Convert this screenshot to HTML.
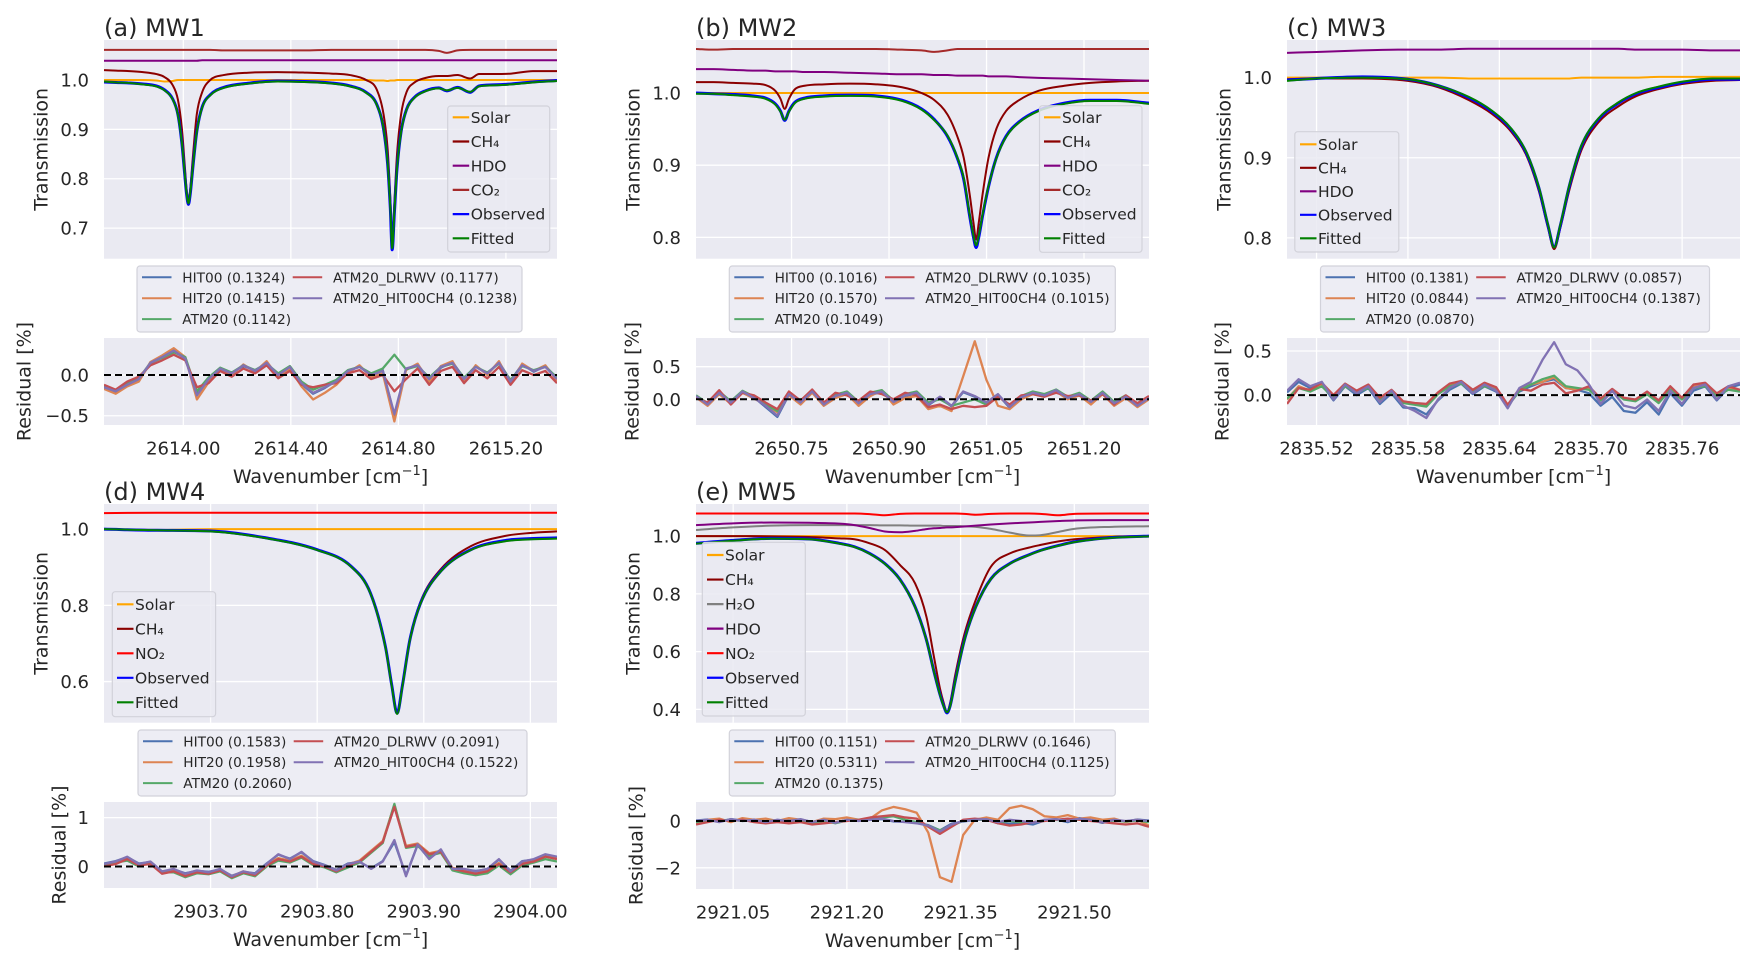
<!DOCTYPE html>
<html><head><meta charset="utf-8"><title>Microwindow fits</title>
<style>
html,body{margin:0;padding:0;background:#fff;}
svg{display:block;font-family:"DejaVu Sans","Liberation Sans",sans-serif;}
</style></head>
<body>
<svg id="fig" xmlns="http://www.w3.org/2000/svg" width="1758" height="967" viewBox="0 0 1758 967"></svg>
<script>
// ---------- Panel (a) MW1 data ----------
const aWn=[2613.705,2613.75,2613.80,2613.85,2613.90,2613.93,2613.96,2613.98,2613.995,2614.005,2614.012,2614.019,2614.026,2614.035,2614.05,2614.07,2614.10,2614.15,2614.25,2614.35,2614.45,2614.55,2614.62,2614.68,2614.72,2614.745,2614.76,2614.77,2614.777,2614.785,2614.795,2614.81,2614.83,2614.86,2614.90,2614.95,2614.98,2615.02,2615.067,2615.10,2615.15,2615.22,2615.30,2615.39];
const aObs=[0.996,0.995,0.994,0.992,0.988,0.980,0.962,0.93,0.87,0.81,0.77,0.748,0.77,0.82,0.895,0.945,0.97,0.985,0.994,0.998,0.997,0.994,0.988,0.975,0.95,0.90,0.83,0.74,0.656,0.73,0.82,0.895,0.94,0.965,0.978,0.984,0.978,0.985,0.975,0.988,0.990,0.992,0.996,0.999];
const aFit=[0.997,0.995,0.994,0.991,0.987,0.979,0.961,0.929,0.871,0.812,0.772,0.750,0.772,0.821,0.894,0.944,0.969,0.984,0.993,0.997,0.996,0.993,0.987,0.974,0.949,0.901,0.832,0.742,0.659,0.732,0.821,0.894,0.939,0.964,0.977,0.983,0.979,0.984,0.976,0.987,0.989,0.991,0.995,0.998];
const aCH4=[1.020,1.019,1.018,1.016,1.012,1.006,0.99,0.96,0.90,0.83,0.78,0.755,0.78,0.84,0.93,0.975,1.000,1.010,1.015,1.016,1.015,1.013,1.010,1.000,0.98,0.93,0.86,0.76,0.665,0.75,0.85,0.93,0.975,0.995,1.004,1.008,1.008,1.010,1.003,1.012,1.012,1.013,1.018,1.018];
const aCO2=[1.061,1.061,1.061,1.061,1.061,1.061,1.061,1.061,1.061,1.061,1.061,1.061,1.061,1.061,1.061,1.061,1.061,1.060,1.060,1.060,1.060,1.061,1.061,1.061,1.061,1.061,1.061,1.061,1.061,1.061,1.061,1.061,1.061,1.061,1.061,1.059,1.055,1.060,1.061,1.061,1.061,1.061,1.061,1.061];
const aHDO=[1.039,1.039,1.039,1.039,1.039,1.039,1.039,1.039,1.039,1.039,1.039,1.039,1.039,1.039,1.039,1.040,1.040,1.040,1.040,1.040,1.040,1.040,1.040,1.040,1.040,1.040,1.040,1.040,1.040,1.040,1.040,1.040,1.040,1.040,1.040,1.040,1.040,1.040,1.040,1.040,1.040,1.040,1.040,1.040];
const aSolar=[1.0,1.0,1.0,1.0,0.999,0.997,0.998,1.0,1.0,1.0,1.0,1.0,1.0,1.0,1.0,1.0,1.0,1.0,1.0,1.0,1.0,1.0,1.0,1.0,0.999,0.999,0.998,0.999,0.999,0.999,1.0,1.0,1.0,1.0,1.0,1.0,1.0,1.0,1.0,1.0,1.0,1.0,1.0,1.0];
const aResBlue=[-0.14,-0.21,-0.11,-0.06,0.14,0.23,0.29,0.21,-0.24,-0.06,0.07,0.03,0.11,0.06,0.14,0.01,0.09,-0.11,-0.23,-0.16,-0.07,0.04,0.11,-0.01,0.06,-0.50,0.07,0.13,-0.06,0.09,0.16,-0.04,0.11,0.01,0.16,-0.07,0.13,0.04,0.11,-0.04];
const aResOrange=[-0.17,-0.23,-0.14,-0.08,0.16,0.24,0.33,0.22,-0.30,-0.09,0.06,0.00,0.13,0.04,0.17,-0.03,0.08,-0.14,-0.30,-0.22,-0.12,0.03,0.12,-0.03,0.02,-0.57,0.06,0.14,-0.09,0.11,0.17,-0.08,0.12,0.00,0.17,-0.11,0.14,0.05,0.12,-0.07];
const aResGreen=[-0.13,-0.19,-0.10,-0.04,0.15,0.21,0.28,0.22,-0.20,-0.03,0.09,0.03,0.12,0.06,0.14,0.02,0.11,-0.08,-0.18,-0.12,-0.06,0.06,0.10,0.02,0.08,0.25,0.07,0.11,-0.03,0.10,0.14,-0.03,0.10,0.03,0.14,-0.06,0.11,0.06,0.10,-0.03];
const aResRed=[-0.12,-0.18,-0.08,-0.02,0.12,0.18,0.25,0.18,-0.15,-0.10,0.05,-0.02,0.08,0.02,0.12,-0.04,0.05,-0.12,-0.15,-0.12,-0.10,0.02,0.06,-0.05,0.00,-0.20,-0.05,0.08,-0.12,0.05,0.10,-0.10,0.06,-0.04,0.10,-0.12,0.06,0.00,0.05,-0.10];
const aResPurple=[-0.15,-0.20,-0.12,-0.05,0.15,0.22,0.30,0.20,-0.25,-0.05,0.08,0.02,0.12,0.05,0.15,0.00,0.10,-0.10,-0.22,-0.15,-0.08,0.05,0.10,0.00,0.05,-0.48,0.08,0.12,-0.05,0.10,0.15,-0.05,0.10,0.02,0.15,-0.08,0.12,0.05,0.10,-0.05];
const aXTicks=[2614.00,2614.40,2614.80,2615.20];
const aXTickLabels=['2614.00','2614.40','2614.80','2615.20'];
const aYTicks=[0.7,0.8,0.9,1.0];
const aYTickLabels=['0.7','0.8','0.9','1.0'];
const aRTicks=[-0.5,0.0];
const aRTickLabels=['\u22120.5','0.0'];
const aRmsLabels=['HIT00 (0.1324)','HIT20 (0.1415)','ATM20 (0.1142)','ATM20_DLRWV (0.1177)','ATM20_HIT00CH4 (0.1238)'];

// ---------- Panel (b) MW2 data ----------
const bWn=[2650.603,2650.63,2650.66,2650.69,2650.71,2650.725,2650.733,2650.7395,2650.746,2650.755,2650.77,2650.80,2650.84,2650.88,2650.92,2650.95,2650.97,2650.99,2651.005,2651.015,2651.024,2651.030,2651.034,2651.038,2651.044,2651.053,2651.065,2651.08,2651.10,2651.13,2651.17,2651.21,2651.25,2651.30];
const bObs=[1.000,0.999,0.998,0.996,0.993,0.985,0.975,0.962,0.975,0.987,0.993,0.996,0.997,0.996,0.990,0.978,0.963,0.94,0.91,0.88,0.83,0.80,0.786,0.80,0.83,0.87,0.91,0.94,0.96,0.976,0.986,0.990,0.990,0.986];
const bFit=[0.999,0.999,0.997,0.995,0.992,0.984,0.974,0.963,0.974,0.986,0.992,0.995,0.996,0.995,0.989,0.977,0.962,0.941,0.911,0.882,0.832,0.802,0.789,0.802,0.832,0.871,0.909,0.939,0.959,0.975,0.985,0.989,0.989,0.985];
const bCH4=[1.015,1.015,1.014,1.013,1.011,1.003,0.992,0.978,0.992,1.005,1.010,1.012,1.013,1.012,1.008,1.000,0.99,0.97,0.94,0.91,0.86,0.82,0.797,0.82,0.86,0.91,0.95,0.975,0.99,1.003,1.010,1.014,1.016,1.017];
const bCO2=[1.061,1.060,1.061,1.061,1.061,1.061,1.061,1.061,1.061,1.061,1.061,1.061,1.061,1.061,1.060,1.059,1.057,1.059,1.061,1.061,1.061,1.061,1.061,1.061,1.061,1.061,1.061,1.061,1.061,1.061,1.061,1.061,1.061,1.061];
const bHDO=[1.033,1.033,1.032,1.031,1.031,1.030,1.030,1.030,1.030,1.030,1.029,1.029,1.028,1.027,1.026,1.026,1.025,1.025,1.024,1.024,1.024,1.024,1.024,1.024,1.024,1.023,1.023,1.023,1.022,1.021,1.020,1.019,1.018,1.017];
const bSolar=[1.0,1.0,1.0,1.0,1.0,1.0,1.0,1.0,1.0,1.0,1.0,1.0,1.0,1.0,1.0,1.0,1.0,1.0,1.0,1.0,1.0,1.0,1.0,1.0,1.0,1.0,1.0,1.0,1.0,1.0,1.0,1.0,1.0,1.0];
const bResBlue=[0.04,-0.09,0.09,-0.06,0.11,0.03,-0.12,-0.27,0.07,-0.06,0.11,-0.09,0.04,0.09,-0.07,0.07,0.11,-0.05,0.05,0.09,-0.09,0.03,-0.11,0.11,0.04,-0.06,0.07,-0.13,0.02,0.09,0.05,0.13,0.01,0.07,-0.05,0.09,-0.07,0.03,-0.11,0.01];
const bResOrange=[0.03,-0.10,0.08,-0.07,0.10,0.01,-0.08,-0.20,0.06,-0.08,0.10,-0.10,0.02,0.08,-0.10,0.05,0.14,-0.08,0.02,0.05,-0.15,-0.10,-0.18,0.35,0.89,0.30,-0.10,-0.15,0.00,0.08,0.04,0.12,0.00,0.06,-0.08,0.08,-0.10,0.02,-0.12,0.00];
const bResGreen=[0.06,-0.06,0.12,-0.03,0.13,0.04,-0.08,-0.18,0.10,-0.03,0.14,-0.06,0.07,0.12,-0.04,0.10,0.14,-0.02,0.08,0.12,-0.05,0.00,-0.10,-0.05,0.00,-0.08,0.06,-0.10,0.05,0.12,0.08,0.15,0.04,0.10,-0.02,0.12,-0.04,0.06,-0.08,0.04];
const bResRed=[0.02,-0.05,0.14,-0.08,0.10,0.06,-0.05,-0.15,0.12,-0.02,0.15,-0.05,0.10,0.06,-0.02,0.12,0.08,0.00,0.10,0.06,-0.12,-0.08,-0.15,-0.10,-0.12,-0.10,0.04,-0.08,0.06,0.08,0.04,0.10,0.05,0.06,-0.02,0.08,-0.08,0.06,-0.06,0.05];
const bResPurple=[0.05,-0.08,0.10,-0.05,0.12,0.02,-0.10,-0.25,0.08,-0.05,0.12,-0.08,0.05,0.10,-0.06,0.08,0.12,-0.04,0.06,0.10,-0.08,0.04,-0.10,0.12,0.05,-0.05,0.08,-0.12,0.03,0.10,0.06,0.14,0.02,0.08,-0.04,0.10,-0.06,0.04,-0.10,0.02];
const bXTicks=[2650.75,2650.90,2651.05,2651.20];
const bXTickLabels=['2650.75','2650.90','2651.05','2651.20'];
const bYTicks=[0.8,0.9,1.0];
const bYTickLabels=['0.8','0.9','1.0'];
const bRTicks=[0.0,0.5];
const bRTickLabels=['0.0','0.5'];
const bRmsLabels=['HIT00 (0.1016)','HIT20 (0.1570)','ATM20 (0.1049)','ATM20_DLRWV (0.1035)','ATM20_HIT00CH4 (0.1015)'];

// ---------- Panel (c) MW3 data ----------
const cWn=[2835.5006,2835.52,2835.55,2835.58,2835.60,2835.62,2835.635,2835.648,2835.658,2835.666,2835.672,2835.676,2835.680,2835.686,2835.694,2835.705,2835.718,2835.73,2835.745,2835.76,2835.78,2835.798];
const cObs=[0.997,0.999,1.001,0.998,0.990,0.975,0.958,0.935,0.905,0.862,0.815,0.789,0.815,0.865,0.915,0.948,0.968,0.980,0.988,0.994,0.998,0.998];
const cFit=[0.996,0.999,1.000,0.998,0.990,0.976,0.959,0.936,0.906,0.863,0.816,0.788,0.816,0.866,0.916,0.949,0.969,0.981,0.989,0.995,0.999,0.999];
const cCH4=[0.998,0.999,0.999,0.996,0.988,0.972,0.955,0.932,0.902,0.858,0.812,0.786,0.812,0.860,0.910,0.944,0.964,0.977,0.986,0.992,0.996,0.997];
const cHDO=[1.031,1.032,1.034,1.035,1.035,1.036,1.036,1.036,1.036,1.036,1.036,1.036,1.036,1.036,1.036,1.036,1.036,1.035,1.035,1.035,1.034,1.034];
const cSolar=[1.0,1.0,1.0,1.0,1.0,0.999,0.999,0.999,0.999,0.999,0.999,0.999,0.999,0.999,1.0,1.0,1.0,1.0,1.001,1.001,1.001,1.001];
const cResBlue=[0.03,0.15,0.08,0.12,-0.06,0.10,0.00,0.08,-0.10,0.02,-0.14,-0.15,-0.22,-0.06,0.06,0.13,0.01,0.10,0.04,-0.12,0.04,0.10,0.15,0.18,0.08,0.06,0.02,-0.12,-0.02,-0.18,-0.20,-0.08,-0.22,0.02,-0.12,0.05,0.10,-0.06,0.08,0.12];
const cResOrange=[-0.05,0.10,0.05,0.12,-0.02,0.12,0.04,0.10,-0.04,0.04,-0.08,-0.10,-0.12,0.02,0.12,0.15,0.05,0.12,0.08,-0.12,0.06,0.12,0.15,0.20,0.08,0.06,0.08,-0.05,0.06,-0.04,-0.06,0.02,-0.08,0.08,-0.04,0.10,0.12,0.00,0.08,0.05];
const cResGreen=[-0.04,0.08,0.04,0.10,-0.03,0.10,0.03,0.08,-0.05,0.03,-0.09,-0.11,-0.13,0.01,0.10,0.13,0.04,0.10,0.06,-0.13,0.05,0.12,0.18,0.22,0.10,0.08,0.06,-0.06,0.05,-0.05,-0.07,0.01,-0.09,0.06,-0.05,0.08,0.10,-0.01,0.06,0.04];
const cResRed=[-0.10,0.08,0.06,0.14,0.00,0.13,0.05,0.12,-0.03,0.06,-0.07,-0.09,-0.10,0.03,0.13,0.16,0.06,0.14,0.09,-0.11,0.07,0.05,0.12,0.14,0.02,0.05,0.10,-0.04,0.07,-0.03,-0.05,0.04,-0.06,0.10,-0.03,0.12,0.14,0.02,0.10,0.06];
const cResPurple=[0.05,0.18,0.10,0.15,-0.05,0.12,0.02,0.10,-0.08,0.05,-0.12,-0.18,-0.26,-0.05,0.08,0.15,0.02,0.12,0.05,-0.15,0.08,0.15,0.40,0.60,0.35,0.28,0.12,-0.10,0.05,-0.12,-0.15,-0.05,-0.18,0.05,-0.10,0.08,0.12,-0.05,0.10,0.14];
const cXTicks=[2835.52,2835.58,2835.64,2835.70,2835.76];
const cXTickLabels=['2835.52','2835.58','2835.64','2835.70','2835.76'];
const cYTicks=[0.8,0.9,1.0];
const cYTickLabels=['0.8','0.9','1.0'];
const cRTicks=[0.0,0.5];
const cRTickLabels=['0.0','0.5'];
const cRmsLabels=['HIT00 (0.1381)','HIT20 (0.0844)','ATM20 (0.0870)','ATM20_DLRWV (0.0857)','ATM20_HIT00CH4 (0.1387)'];

// ---------- Panel (d) MW4 data ----------
const dWn=[2903.60,2903.65,2903.70,2903.75,2903.80,2903.832,2903.85,2903.864,2903.870,2903.875,2903.880,2903.887,2903.897,2903.916,2903.944,2903.976,2904.00,2904.025];
const dObs=[1.000,0.997,0.995,0.978,0.946,0.902,0.832,0.692,0.590,0.517,0.590,0.71,0.806,0.89,0.946,0.970,0.975,0.977];
const dFit=[1.000,0.997,0.994,0.977,0.945,0.901,0.831,0.690,0.588,0.515,0.588,0.709,0.805,0.889,0.945,0.968,0.973,0.975];
const dCH4=[1.000,0.997,0.995,0.978,0.946,0.902,0.832,0.692,0.590,0.517,0.590,0.71,0.81,0.895,0.955,0.982,0.990,0.994];
const dNO2=[1.042,1.043,1.043,1.043,1.043,1.043,1.043,1.043,1.043,1.043,1.043,1.043,1.043,1.043,1.043,1.043,1.043,1.043];
const dSolar=[1.0,0.998,1.0,1.0,1.0,1.0,1.0,1.0,1.0,1.0,1.0,1.0,1.0,1.0,1.0,1.0,1.0,1.0];
const dResBlue=[0.06,0.11,0.19,0.06,0.09,-0.11,-0.06,-0.14,-0.09,-0.11,-0.06,-0.19,-0.11,-0.14,0.06,0.24,0.16,0.29,0.11,0.03,-0.07,0.06,0.09,-0.04,0.11,0.50,-0.18,0.44,0.16,0.34,-0.04,-0.06,-0.09,-0.06,0.14,-0.09,0.11,0.14,0.24,0.19];
const dResOrange=[0.02,0.07,0.17,0.04,0.07,-0.13,-0.08,-0.18,-0.10,-0.13,-0.06,-0.20,-0.10,-0.16,0.04,0.17,0.12,0.22,0.07,0.02,-0.08,0.04,0.12,0.32,0.52,1.26,0.42,0.47,0.27,0.32,-0.03,-0.08,-0.13,-0.08,0.07,-0.10,0.07,0.12,0.22,0.17];
const dResGreen=[0.04,0.08,0.12,0.00,0.08,-0.12,-0.12,-0.22,-0.14,-0.16,-0.10,-0.24,-0.14,-0.20,0.00,0.12,0.08,0.18,0.03,-0.02,-0.12,-0.02,0.08,0.28,0.48,1.28,0.38,0.42,0.22,0.28,-0.08,-0.14,-0.18,-0.14,0.02,-0.16,0.02,0.08,0.15,0.10];
const dResRed=[0.00,0.05,0.15,0.02,0.05,-0.15,-0.10,-0.20,-0.12,-0.15,-0.08,-0.22,-0.12,-0.18,0.02,0.15,0.10,0.20,0.05,0.00,-0.10,0.02,0.10,0.30,0.50,1.22,0.40,0.45,0.25,0.30,-0.05,-0.10,-0.15,-0.10,0.05,-0.12,0.05,0.10,0.20,0.15];
const dResPurple=[0.05,0.10,0.20,0.05,0.10,-0.10,-0.05,-0.15,-0.08,-0.12,-0.05,-0.20,-0.10,-0.15,0.05,0.25,0.15,0.30,0.10,0.02,-0.08,0.05,0.10,-0.05,0.10,0.54,-0.20,0.45,0.15,0.35,-0.05,-0.05,-0.10,-0.05,0.15,-0.10,0.10,0.15,0.25,0.20];
const dXTicks=[2903.70,2903.80,2903.90,2904.00];
const dXTickLabels=['2903.70','2903.80','2903.90','2904.00'];
const dYTicks=[0.6,0.8,1.0];
const dYTickLabels=['0.6','0.8','1.0'];
const dRTicks=[0,1];
const dRTickLabels=['0','1'];
const dRmsLabels=['HIT00 (0.1583)','HIT20 (0.1958)','ATM20 (0.2060)','ATM20_DLRWV (0.2091)','ATM20_HIT00CH4 (0.1522)'];

// ---------- Panel (e) MW5 data ----------
const eWn=[2921.001,2921.05,2921.10,2921.15,2921.19,2921.21,2921.23,2921.25,2921.27,2921.29,2921.305,2921.315,2921.323,2921.328,2921.332,2921.336,2921.343,2921.355,2921.37,2921.39,2921.415,2921.44,2921.455,2921.48,2921.50,2921.55,2921.5985];
const eObs=[0.975,0.985,0.992,0.99,0.975,0.963,0.94,0.905,0.85,0.755,0.64,0.53,0.45,0.41,0.388,0.41,0.50,0.64,0.755,0.852,0.905,0.935,0.95,0.968,0.98,0.995,1.0];
const eFit=[0.974,0.984,0.991,0.989,0.974,0.962,0.939,0.904,0.849,0.754,0.639,0.529,0.449,0.409,0.390,0.409,0.499,0.639,0.754,0.851,0.904,0.934,0.949,0.967,0.979,0.994,0.999];
const eCH4=[1.0,1.0,0.999,0.997,0.992,0.989,0.975,0.952,0.90,0.836,0.72,0.58,0.47,0.42,0.39,0.42,0.52,0.66,0.779,0.894,0.94,0.96,0.969,0.982,0.989,0.997,1.0];
const eH2O=[1.021,1.03,1.036,1.038,1.038,1.038,1.038,1.037,1.037,1.036,1.036,1.036,1.036,1.035,1.035,1.035,1.035,1.034,1.032,1.025,1.012,1.002,1.003,1.015,1.025,1.032,1.034];
const eHDO=[1.038,1.044,1.047,1.046,1.043,1.038,1.028,1.016,1.013,1.018,1.024,1.027,1.028,1.029,1.030,1.030,1.031,1.033,1.036,1.040,1.044,1.047,1.049,1.052,1.054,1.055,1.055];
const eNO2=[1.078,1.078,1.078,1.078,1.078,1.078,1.076,1.072,1.077,1.078,1.078,1.078,1.078,1.078,1.078,1.078,1.078,1.077,1.074,1.077,1.078,1.078,1.077,1.072,1.077,1.078,1.078];
const eSolar=[1.0,1.0,1.0,1.0,1.0,1.0,1.0,1.0,1.0,1.0,1.0,1.0,1.0,1.0,1.0,1.0,1.0,1.0,1.0,1.0,1.0,1.0,1.0,1.0,1.0,1.0,1.0];
const eResBlue=[0.02,0.06,-0.04,0.08,0.02,0.06,-0.04,0.04,0.02,0.06,-0.04,0.06,-0.06,0.04,0.02,0.04,0.08,-0.02,-0.04,-0.08,-0.18,-0.40,-0.12,-0.02,0.04,0.06,-0.10,-0.12,-0.08,-0.15,0.02,0.06,-0.05,0.12,0.04,-0.08,0.04,-0.02,0.06,0.02];
const eResOrange=[-0.1,0.05,0.1,-0.05,0.12,0.05,0.10,0.00,0.12,0.05,-0.05,0.10,0.08,0.15,0.05,0.10,0.45,0.60,0.50,0.35,-0.50,-2.40,-2.60,-0.60,0.05,0.15,0.05,0.55,0.65,0.50,0.20,0.15,0.25,0.10,0.15,0.05,0.10,-0.05,0.05,-0.20];
const eResGreen=[-0.05,0.00,0.02,0.05,0.00,0.02,-0.02,0.03,-0.05,0.02,-0.08,0.00,-0.10,0.02,0.05,0.08,0.15,0.20,0.05,-0.05,-0.20,-0.40,-0.20,0.00,0.05,0.05,-0.05,0.00,-0.05,-0.05,0.02,0.05,0.02,0.06,0.02,-0.03,0.02,-0.02,0.02,-0.05];
const eResRed=[-0.15,-0.05,0.05,0.00,0.05,-0.05,-0.10,-0.05,-0.10,-0.05,-0.15,-0.10,-0.05,0.00,0.05,0.15,0.20,0.25,0.15,0.10,-0.25,-0.55,-0.25,0.05,0.10,0.05,-0.10,-0.20,-0.15,-0.05,0.00,0.05,0.10,0.05,0.00,-0.05,-0.10,-0.15,-0.10,-0.25];
const eResPurple=[0.00,0.05,-0.05,0.08,0.00,0.05,-0.05,0.05,0.00,0.08,-0.05,0.05,-0.08,0.05,0.00,0.05,0.10,0.00,-0.05,-0.10,-0.20,-0.45,-0.15,0.00,0.05,0.08,-0.05,0.05,0.00,-0.08,0.05,0.08,0.00,0.10,0.05,-0.05,0.05,0.00,0.05,0.00];
const eXTicks=[2921.05,2921.20,2921.35,2921.50];
const eXTickLabels=['2921.05','2921.20','2921.35','2921.50'];
const eYTicks=[0.4,0.6,0.8,1.0];
const eYTickLabels=['0.4','0.6','0.8','1.0'];
const eRTicks=[-2,0];
const eRTickLabels=['\u22122','0'];
const eRmsLabels=['HIT00 (0.1151)','HIT20 (0.5311)','ATM20 (0.1375)','ATM20_DLRWV (0.1646)','ATM20_HIT00CH4 (0.1125)'];

// ---------- rendering ----------
const NS='http://www.w3.org/2000/svg';
const svg=document.getElementById('fig');
const C={Solar:'#ffa500',CH4:'#8b0000',HDO:'#800080',CO2:'#a52a2a',H2O:'#808080',NO2:'#ff0000',Observed:'#0000ff',Fitted:'#008000'};
const RC=['#4c72b0','#dd8452','#55a868','#c44e52','#8172b3'];
const LBL={Solar:'Solar',CH4:'CH\u2084',HDO:'HDO',CO2:'CO\u2082',H2O:'H\u2082O',NO2:'NO\u2082',Observed:'Observed',Fitted:'Fitted'};
function mk(tag,attrs,parent){const e=document.createElementNS(NS,tag);for(const k in attrs)e.setAttribute(k,attrs[k]);(parent||svg).appendChild(e);return e;}
function scale(d0,d1,r0,r1){return v=>r0+(v-d0)/(d1-d0)*(r1-r0);}
function pathFrom(xs,ys,sx,sy){let s='';for(let i=0;i<xs.length;i++){s+=(i?'L':'M')+sx(xs[i]).toFixed(2)+','+sy(ys[i]).toFixed(2);}return s;}
// monotone cubic (Fritsch-Carlson) smooth path in pixel space
function smoothPath(xs,ys,sx,sy){
  const X=xs.map(sx),Y=ys.map(sy),n=X.length;
  if(n<3)return pathFrom(xs,ys,sx,sy);
  const d=[],m=new Array(n);
  for(let i=0;i<n-1;i++)d.push((Y[i+1]-Y[i])/(X[i+1]-X[i]));
  m[0]=d[0];m[n-1]=d[n-2];
  for(let i=1;i<n-1;i++){m[i]=(d[i-1]*d[i]<=0)?0:(d[i-1]+d[i])/2;}
  for(let i=0;i<n-1;i++){
    if(d[i]===0){m[i]=0;m[i+1]=0;continue;}
    const a=m[i]/d[i],b=m[i+1]/d[i],h=a*a+b*b;
    if(h>9){const t=3/Math.sqrt(h);m[i]=t*a*d[i];m[i+1]=t*b*d[i];}
  }
  let s='M'+X[0].toFixed(2)+','+Y[0].toFixed(2);
  for(let i=0;i<n-1;i++){
    const h=(X[i+1]-X[i])/3;
    s+='C'+(X[i]+h).toFixed(2)+','+(Y[i]+m[i]*h).toFixed(2)+' '+(X[i+1]-h).toFixed(2)+','+(Y[i+1]-m[i+1]*h).toFixed(2)+' '+X[i+1].toFixed(2)+','+Y[i+1].toFixed(2);
  }
  return s;
}
let clipId=0;

function drawPanel(p){
  const g=mk('g',{});
  
  
  const sx=scale(p.xr[0],p.xr[1],p.L,p.L+p.W);
  const sy=scale(p.yr[0],p.yr[1],p.T+p.H,p.T);
  const sr=scale(p.rr[0],p.rr[1],p.RT+p.RH,p.RT);
  const t=mk('text',{x:p.L,y:p.T-4,'font-size':24,fill:'#262626'},g);
  t.textContent=p.title;
  
  
  [[p.T,p.H,'transmission-axes'],[p.RT,p.RH,'residual-axes']].forEach(a=>{
    const r=mk('rect',{x:p.L,y:a[0],width:p.W,height:a[1],fill:'#eaeaf2'},g);
    
    
  });
  p.xticks.forEach(v=>{
    const x=sx(v);
    const l1=mk('line',{x1:x,x2:x,y1:p.T,y2:p.T+p.H,stroke:'#fff','stroke-width':1.3},g);
    
    
    const l2=mk('line',{x1:x,x2:x,y1:p.RT,y2:p.RT+p.RH,stroke:'#fff','stroke-width':1.3},g);
    
    
  });
  p.yticks.forEach((v,i)=>{
    const y=sy(v);
    const l=mk('line',{x1:p.L,x2:p.L+p.W,y1:y,y2:y,stroke:'#fff','stroke-width':1.3},g);
    
    
    const tx=mk('text',{x:p.L-15,y:y+6.5,'font-size':18,'text-anchor':'end',fill:'#262626'},g);
    tx.textContent=p.ylabels[i];
    
    
  });
  p.rticks.forEach((v,i)=>{
    const y=sr(v);
    const l=mk('line',{x1:p.L,x2:p.L+p.W,y1:y,y2:y,stroke:'#fff','stroke-width':1.3},g);
    
    
    const tx=mk('text',{x:p.L-15,y:y+6.5,'font-size':18,'text-anchor':'end',fill:'#262626'},g);
    tx.textContent=p.rlabels[i];
    
    
  });
  p.xticks.forEach((v,i)=>{
    const tx=mk('text',{x:sx(v),y:p.RT+p.RH+29.5,'font-size':18,'text-anchor':'middle',fill:'#262626'},g);
    tx.textContent=p.xlabels[i];
    
    
  });
  const xl=mk('text',{x:p.L+p.W/2,y:p.RT+p.RH+58,'font-size':19,'text-anchor':'middle',fill:'#262626'},g);
  xl.innerHTML='Wavenumber [cm<tspan dy="-8" font-size="13">\u22121</tspan><tspan dy="8">]</tspan>';
  
  
  const ylx=p.L-62, yly=p.T+p.H/2;
  const yl=mk('text',{x:ylx,y:yly,'font-size':19,'text-anchor':'middle','dominant-baseline':'middle',fill:'#262626',transform:'rotate(-90 '+ylx+' '+yly+')'},g);
  yl.textContent='Transmission';
  
  
  const rlx=p.L-p.rlabOff, rly=p.RT+p.RH/2;
  const rl=mk('text',{x:rlx,y:rly,'font-size':19,'text-anchor':'middle','dominant-baseline':'middle',fill:'#262626',transform:'rotate(-90 '+rlx+' '+rly+')'},g);
  rl.textContent='Residual [%]';
  
  
  const cid1='clip'+(clipId++), cid2='clip'+(clipId++);
  const defs=mk('defs',{},g);
  const cp1=mk('clipPath',{id:cid1},defs); mk('rect',{x:p.L,y:p.T,width:p.W,height:p.H},cp1);
  const cp2=mk('clipPath',{id:cid2},defs); mk('rect',{x:p.L,y:p.RT,width:p.W,height:p.RH},cp2);
  const tg=mk('g',{'clip-path':'url(#'+cid1+')'},g);
  p.species.forEach(s=>{
    const w=s.name==='Observed'?3:2;
    const pa=mk('path',{d:smoothPath(p.wn,s.vals,sx,sy),fill:'none',stroke:C[s.name],'stroke-width':w,'stroke-linejoin':'round'},tg);
    
    
  });
  const rg=mk('g',{'clip-path':'url(#'+cid2+')'},g);
  p.res.forEach((vals,k)=>{
    const xs=vals.map((v,i)=>p.xr[0]+(p.xr[1]-p.xr[0])*i/(vals.length-1));
    const pa=mk('path',{d:pathFrom(xs,vals,sx,sr),fill:'none',stroke:RC[k],'stroke-width':2.3,'stroke-linejoin':'round'},rg);
    
    
  });
  const z=mk('line',{x1:p.L,x2:p.L+p.W,y1:sr(0),y2:sr(0),stroke:'#000','stroke-width':2,'stroke-dasharray':'7,4'},rg);
  
  
  const lg=p.leg;
  const lgG=mk('g',{},g);
  
  
  mk('rect',{x:lg.x,y:lg.y,width:lg.w,height:lg.h,rx:3,fill:'#eaeaf2','fill-opacity':0.85,stroke:'#d2d2da','stroke-width':1.2},lgG);
  p.species.forEach((s,i)=>{
    const cy=lg.y0+i*lg.dy;
    const ln=mk('line',{x1:lg.hx,x2:lg.hx+16.5,y1:cy,y2:cy,stroke:C[s.name],'stroke-width':2.2},lgG);
    
    
    const tx=mk('text',{x:lg.hx+18,y:cy+5.6,'font-size':15.5,fill:'#262626'},lgG);
    tx.textContent=LBL[s.name];
    
    
  });
  const rlg=mk('g',{},g);
  
  
  mk('rect',{x:p.rleg.x,y:p.rleg.y,width:p.rleg.w,height:66,rx:3,fill:'#eaeaf2','fill-opacity':0.85,stroke:'#d2d2da','stroke-width':1.2},rlg);
  const pos=[[0,0],[0,1],[0,2],[1,0],[1,1]];
  p.rms.forEach((lab,k)=>{
    const col=pos[k][0], row=pos[k][1];
    const hx=p.rleg.x+5+col*150.7, cy=p.rleg.y+11.3+row*20.9;
    const ln=mk('line',{x1:hx,x2:hx+29.5,y1:cy,y2:cy,stroke:RC[k],'stroke-width':2},rlg);
    
    
    const tx=mk('text',{x:hx+40.3,y:cy+5,'font-size':13.7,fill:'#262626'},rlg);
    tx.textContent=lab;
    
    
  });
}

drawPanel({key:'a',title:'(a) MW1',L:104,T:40,W:453,H:218.7,RT:338,RH:87,xr:[2613.705,2615.39],yr:[0.638,1.081],rr:[-0.614,0.455],
  wn:aWn,species:[{name:'Solar',vals:aSolar},{name:'CH4',vals:aCH4},{name:'HDO',vals:aHDO},{name:'CO2',vals:aCO2},{name:'Observed',vals:aObs},{name:'Fitted',vals:aFit}],
  res:[aResBlue,aResOrange,aResGreen,aResRed,aResPurple],xticks:aXTicks,xlabels:aXTickLabels,yticks:aYTicks,ylabels:aYTickLabels,rticks:aRTicks,rlabels:aRTickLabels,rlabOff:79,
  leg:{x:447.7,y:106,w:102,h:146,y0:117.3,dy:24.2,hx:452.7},rleg:{x:137,y:266,w:385},rms:aRmsLabels});
drawPanel({key:'b',title:'(b) MW2',L:696,T:40,W:453,H:218.7,RT:338,RH:87,xr:[2650.603,2651.30],yr:[0.7705,1.0734],rr:[-0.394,0.94],
  wn:bWn,species:[{name:'Solar',vals:bSolar},{name:'CH4',vals:bCH4},{name:'HDO',vals:bHDO},{name:'CO2',vals:bCO2},{name:'Observed',vals:bObs},{name:'Fitted',vals:bFit}],
  res:[bResBlue,bResOrange,bResGreen,bResRed,bResPurple],xticks:bXTicks,xlabels:bXTickLabels,yticks:bYTicks,ylabels:bYTickLabels,rticks:bRTicks,rlabels:bRTickLabels,rlabOff:63,
  leg:{x:1039.5,y:105.7,w:102.5,h:146.6,y0:117.3,dy:24.2,hx:1044},rleg:{x:729.3,y:266,w:386},rms:bRmsLabels});
drawPanel({key:'c',title:'(c) MW3',L:1287,T:40,W:453,H:218.7,RT:338,RH:87,xr:[2835.5006,2835.798],yr:[0.774,1.047],rr:[-0.339,0.647],
  wn:cWn,species:[{name:'Solar',vals:cSolar},{name:'CH4',vals:cCH4},{name:'HDO',vals:cHDO},{name:'Observed',vals:cObs},{name:'Fitted',vals:cFit}],
  res:[cResBlue,cResOrange,cResGreen,cResRed,cResPurple],xticks:cXTicks,xlabels:cXTickLabels,yticks:cYTicks,ylabels:cYTickLabels,rticks:cRTicks,rlabels:cRTickLabels,rlabOff:64,
  leg:{x:1294.8,y:131.7,w:104,h:120.3,y0:144.3,dy:23.5,hx:1300},rleg:{x:1320.5,y:266,w:389},rms:cRmsLabels});
drawPanel({key:'d',title:'(d) MW4',L:104,T:504,W:453,H:218.7,RT:802,RH:86,xr:[2903.60,2904.025],yr:[0.492,1.066],rr:[-0.441,1.319],
  wn:dWn,species:[{name:'Solar',vals:dSolar},{name:'CH4',vals:dCH4},{name:'NO2',vals:dNO2},{name:'Observed',vals:dObs},{name:'Fitted',vals:dFit}],
  res:[dResBlue,dResOrange,dResGreen,dResRed,dResPurple],xticks:dXTicks,xlabels:dXTickLabels,yticks:dYTicks,ylabels:dYTickLabels,rticks:dRTicks,rlabels:dRTickLabels,rlabOff:44,
  leg:{x:112.3,y:591.7,w:103.3,h:125,y0:604.3,dy:24.5,hx:117},rleg:{x:138,y:730,w:389},rms:dRmsLabels});
drawPanel({key:'e',title:'(e) MW5',L:696,T:504,W:453,H:218.7,RT:802,RH:87,xr:[2921.001,2921.5985],yr:[0.354,1.111],rr:[-2.906,0.81],
  wn:eWn,species:[{name:'Solar',vals:eSolar},{name:'CH4',vals:eCH4},{name:'H2O',vals:eH2O},{name:'HDO',vals:eHDO},{name:'NO2',vals:eNO2},{name:'Observed',vals:eObs},{name:'Fitted',vals:eFit}],
  res:[eResBlue,eResOrange,eResGreen,eResRed,eResPurple],xticks:eXTicks,xlabels:eXTickLabels,yticks:eYTicks,ylabels:eYTickLabels,rticks:eRTicks,rlabels:eRTickLabels,rlabOff:59,
  leg:{x:702.3,y:542.3,w:103,h:173.7,y0:555,dy:24.55,hx:707},rleg:{x:729.3,y:730,w:386},rms:eRmsLabels});
</script>
</body></html>
